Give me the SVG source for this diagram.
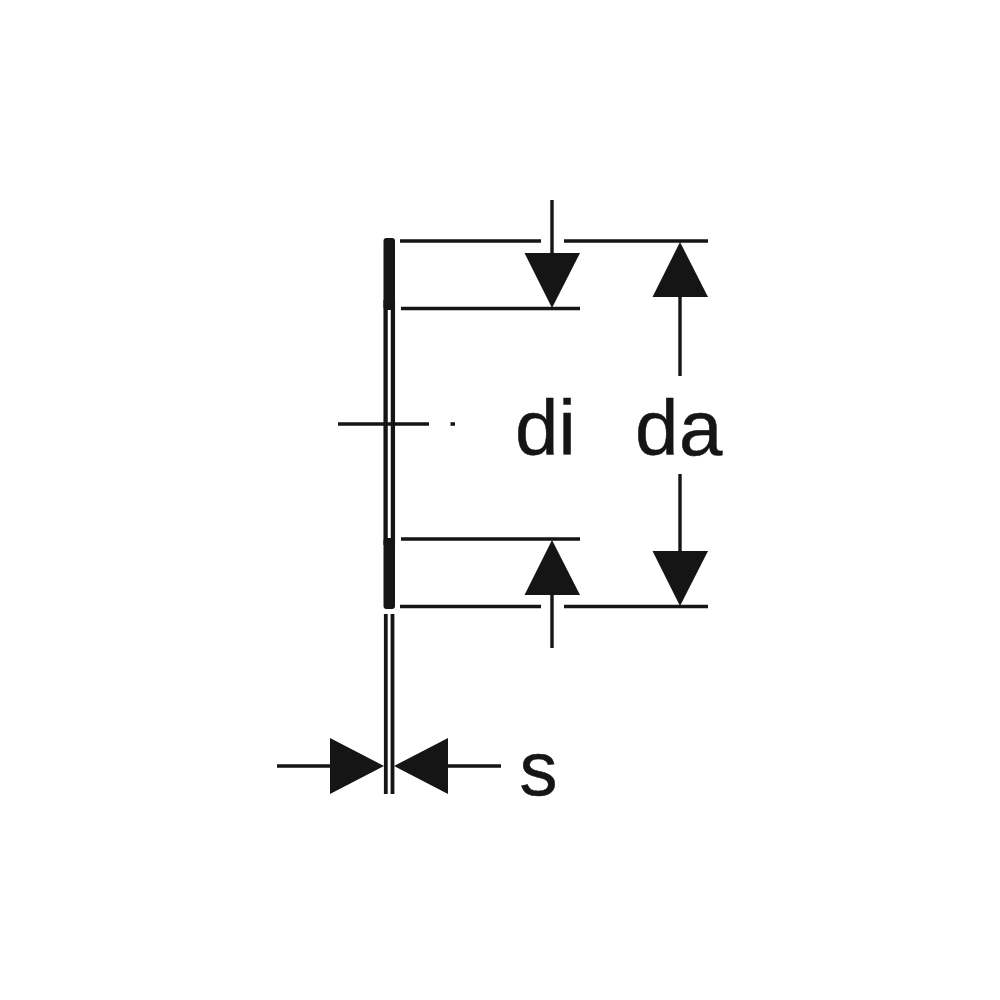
<svg xmlns="http://www.w3.org/2000/svg" width="1000" height="1000" viewBox="0 0 1000 1000">
<style>
.l{stroke:#151515;stroke-width:3.4;fill:none}
.w{stroke:#151515;stroke-width:4.3;fill:none}
.v{stroke:#151515;stroke-width:3.8;fill:none}
.a{fill:#151515;stroke:none}
.t{font-family:"Liberation Sans",Arial,sans-serif;font-size:78px;fill:#151515;stroke:#151515;stroke-width:.5}
</style>
<rect width="1000" height="1000" fill="#fff"/>
<g id="washer">
<rect class="a" x="383.500" y="238" width="11.500" height="72" rx="3"/>
<rect class="a" x="383.500" y="538" width="11.500" height="71" rx="3"/>
<path class="w" d="M385.600 300V545M392.900 300V545"/>
<path class="v" d="M385.800 614V794M392.500 614V794"/>
</g>
<g id="connectors">
<path class="l" d="M338 424H429M450.500 424H455"/>
<path class="l" d="M400 241H541M564 241H708M401 308.500H580M401 539H580M400 606.500H541M564 606.500H708"/>
<path class="l" d="M552 200V255M552 592V648M680 295V376M680 474V553M277 766H332M447 766H501"/>
<polygon class="a" points="524.500,253 580,253 552,308"/>
<polygon class="a" points="524.500,595 580,595 552,540"/>
<polygon class="a" points="652.500,297 708,297 680,242"/>
<polygon class="a" points="652.500,551 708,551 680,606"/>
<polygon class="a" points="330,738 330,794 384,766"/>
<polygon class="a" points="448,738 448,794 394,766"/>
</g>
<g id="labels">
<text class="t" x="515" y="455">di</text>
<text class="t" x="635" y="455" letter-spacing=".5">da</text>
<text class="t" x="519.500" y="795" style="font-size:76px">s</text>
</g>
</svg>
